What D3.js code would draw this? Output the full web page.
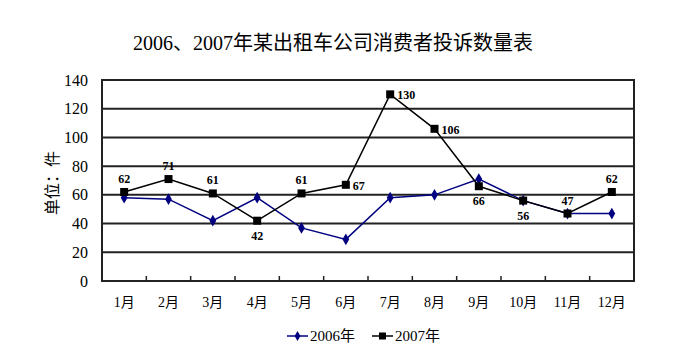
<!DOCTYPE html>
<html><head><meta charset="utf-8">
<script src="https://cdn.jsdelivr.net/npm/d3@7/dist/d3.min.js"></script>
<style>
html,body{margin:0;padding:0;background:#fff;}
svg{display:block;}
</style></head>
<body>
<svg id="chart" width="690" height="360"></svg>
<script>
const title = "2006、2007年某出租车公司消费者投诉数量表";
const months = ["1月","2月","3月","4月","5月","6月","7月","8月","9月","10月","11月","12月"];
const seriesNames = ["2006年","2007年"];
const values2006 = [58,57,42,58,37,29,58,60,71,56,47,47];
const values2007 = [62,71,61,42,61,67,130,106,66,56,47,62];
const yTicks = [0,20,40,60,80,100,120,140];
const yTitle = "单位：件";
// label placement for 2007 data labels
const labelPos = ["above","above","above","below","above","right","right","right","below","below","above","above"];

const FONT = "'Liberation Serif','Noto Sans CJK SC',serif";
const svg = d3.select("#chart");
const m = {left:102, right:634, top:80, bottom:281};

const x = d3.scaleBand().domain(months).range([m.left, m.right]);
const y = d3.scaleLinear().domain([0,140]).range([m.bottom, m.top]);

// title
svg.append("text").attr("x", 333).attr("y", 50).attr("text-anchor","middle")
  .style("font-family", FONT).style("font-size","20px").attr("fill","#000").text(title);

// gridlines
svg.append("g").selectAll("line").data(yTicks.filter(d=>d>0)).join("line")
  .attr("x1", m.left).attr("x2", m.right)
  .attr("y1", d=>y(d)).attr("y2", d=>y(d))
  .attr("stroke","#222").attr("stroke-width",2);

// frame
svg.append("rect").attr("x", m.left).attr("y", m.top)
  .attr("width", m.right-m.left).attr("height", m.bottom-m.top)
  .attr("fill","none").attr("stroke","#222").attr("stroke-width",2);

// y axis
const yAxis = d3.axisLeft(y).tickValues(yTicks).tickSize(0).tickPadding(14);
const gy = svg.append("g").attr("transform",`translate(${m.left},0)`).call(yAxis);
gy.select(".domain").remove();
gy.selectAll("text").style("font-family", FONT).style("font-size","16px").attr("fill","#000");

// x axis (ticks pointing inward)
const xAxis = d3.axisBottom(x).tickSize(0).tickPadding(16);
const gx = svg.append("g").attr("transform",`translate(0,${m.bottom})`).call(xAxis);
gx.select(".domain").remove();
gx.selectAll("text").style("font-family", FONT).style("font-size","14px").attr("fill","#000");
// inward category boundary ticks
svg.append("g").selectAll("line").data(months.slice(1)).join("line")
  .attr("x1", d=>x(d)).attr("x2", d=>x(d))
  .attr("y1", m.bottom).attr("y2", m.bottom-5)
  .attr("stroke","#222").attr("stroke-width",1.5);

// y title
svg.append("text").attr("transform","translate(58,183) rotate(-90)")
  .attr("text-anchor","middle").style("font-family", FONT).style("font-size","16px")
  .attr("fill","#000").text(yTitle);

const cx = d => x(d) + x.bandwidth()/2;
const line = d3.line().x(d=>cx(d[0])).y(d=>y(d[1]));
const d06 = months.map((mm,i)=>[mm, values2006[i]]);
const d07 = months.map((mm,i)=>[mm, values2007[i]]);

// 2006 series
svg.append("path").datum(d06).attr("d", line).attr("fill","none")
  .attr("stroke","#000080").attr("stroke-width",1.5);
const diamond = d3.symbol().type(d3.symbolDiamond).size(40);
svg.append("g").selectAll("path").data(d06).join("path")
  .attr("d", diamond).attr("transform", d=>`translate(${cx(d[0])},${y(d[1])})`)
  .attr("fill","#000080");

// 2007 series
svg.append("path").datum(d07).attr("d", line).attr("fill","none")
  .attr("stroke","#000").attr("stroke-width",1.5);
svg.append("g").selectAll("rect").data(d07).join("rect")
  .attr("x", d=>cx(d[0])-4).attr("y", d=>y(d[1])-4).attr("width",8).attr("height",8)
  .attr("fill","#000");

// data labels
svg.append("g").selectAll("text").data(d07).join("text")
  .attr("x",(d,i)=> labelPos[i]==="right" ? cx(d[0])+7 : cx(d[0]))
  .attr("y",(d,i)=> labelPos[i]==="above" ? y(d[1])-9 : labelPos[i]==="below" ? y(d[1])+19 : y(d[1])+5)
  .attr("text-anchor",(d,i)=> labelPos[i]==="right" ? "start" : "middle")
  .style("font-family", FONT).style("font-size","12px").style("font-weight","bold")
  .attr("fill","#000").text(d=>d[1]);

// legend
const lg = svg.append("g");
const legendItems = [{name:seriesNames[0], color:"#000080", type:"diamond", x:287},
                     {name:seriesNames[1], color:"#000", type:"square", x:372}];
legendItems.forEach(it=>{
  lg.append("line").attr("x1", it.x).attr("x2", it.x+21).attr("y1",336).attr("y2",336)
    .attr("stroke", it.color).attr("stroke-width",1.5);
  if(it.type==="diamond"){
    lg.append("path").attr("d", d3.symbol().type(d3.symbolDiamond).size(30)())
      .attr("transform",`translate(${it.x+10.5},336)`).attr("fill", it.color);
  } else {
    lg.append("rect").attr("x", it.x+7).attr("y",332.5).attr("width",7).attr("height",7).attr("fill",it.color);
  }
  lg.append("text").attr("x", it.x+23).attr("y", 341).style("font-family", FONT)
    .style("font-size","15px").attr("fill","#000").text(it.name);
});
</script>
</body></html>
